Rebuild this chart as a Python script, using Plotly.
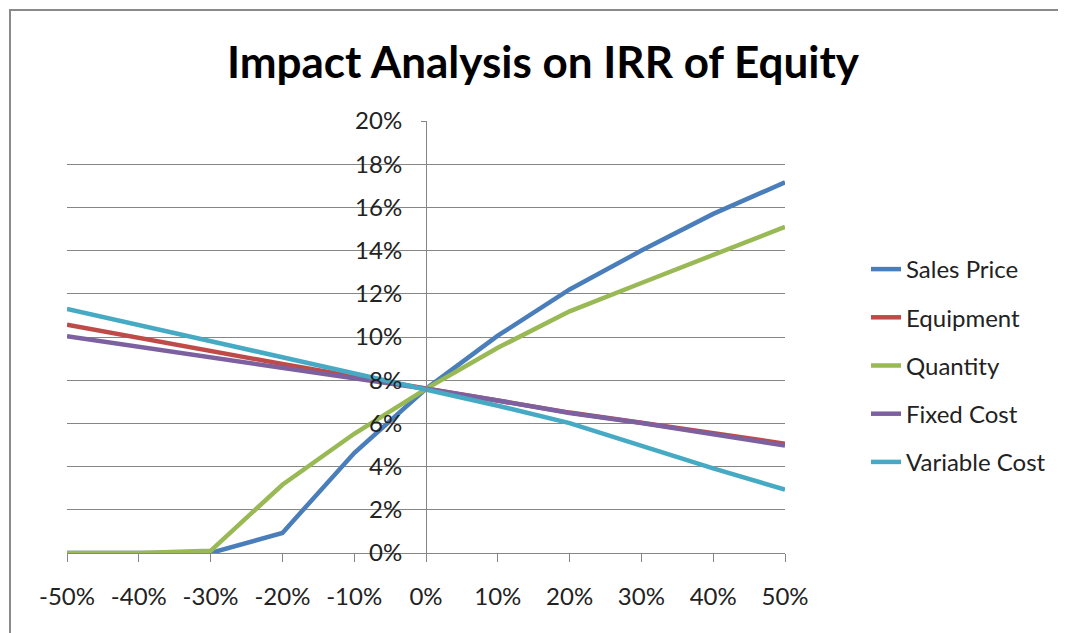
import plotly.graph_objects as go

changes = [-0.5, -0.4, -0.3, -0.2, -0.1, 0.0, 0.1, 0.2, 0.3, 0.4, 0.5]
change_labels = ["-50%", "-40%", "-30%", "-20%", "-10%", "0%", "10%", "20%", "30%", "40%", "50%"]
sales_price = [0.0, 0.0, 0.0, 0.93, 4.63, 7.6, 10.06, 12.2, 14.0, 15.7, 17.16]
equipment = [10.57, 9.95, 9.35, 8.75, 8.17, 7.6, 7.07, 6.5, 6.03, 5.55, 5.06]
quantity = [0.0, 0.0, 0.1, 3.16, 5.52, 7.6, 9.5, 11.19, 12.5, 13.8, 15.1]
fixed_cost = [10.03, 9.55, 9.07, 8.58, 8.1, 7.6, 7.06, 6.48, 6.02, 5.52, 4.97]
variable_cost = [11.3, 10.56, 9.82, 9.08, 8.34, 7.6, 6.82, 6.01, 4.94, 3.92, 2.93]
irr_ticks = [0, 0.02, 0.04, 0.06, 0.08, 0.10, 0.12, 0.14, 0.16, 0.18, 0.20]
irr_labels = ["0%", "2%", "4%", "6%", "8%", "10%", "12%", "14%", "16%", "18%", "20%"]

series = [
    ("Sales Price", sales_price, "#4A7EBB"),
    ("Equipment", equipment, "#BE4B48"),
    ("Quantity", quantity, "#98B954"),
    ("Fixed Cost", fixed_cost, "#7D60A0"),
    ("Variable Cost", variable_cost, "#46AAC5"),
]

FONT = "Lato"
W, H = 1058, 625
L, T = 59, 113
PW, PH = 718, 432

fig = go.Figure()
for name, vals, col in series:
    fig.add_trace(go.Scatter(
        x=changes, y=[v / 100 for v in vals], mode="lines", name=name,
        legendgroup=name,
        line=dict(color=col, width=4.5),
    ))

fig.update_layout(
    width=W, height=H,
    margin=dict(l=L, r=W - L - PW, t=T, b=H - T - PH),
    paper_bgcolor="white", plot_bgcolor="white",
    title=dict(text="<b>Impact Analysis on IRR of Equity</b>", x=(535 - 0) / W, xanchor="center",
               y=1 - 55 / H, yanchor="middle",
               font=dict(family=FONT, size=44, color="black")),
    font=dict(family=FONT, color="#222"),
    showlegend=True,
    legend=dict(x=(858 - L) / PW, xanchor="left", y=1 - (239 - T) / PH, yanchor="top",
                font=dict(family=FONT, size=24, color="#222"),
                traceorder="grouped", tracegroupgap=14,
                bgcolor="rgba(0,0,0,0)"),
    xaxis=dict(range=[-0.5, 0.5], tickvals=changes, ticktext=change_labels,
               showgrid=False, zeroline=False, showline=True, linecolor="#868686",
               linewidth=1, ticks="outside", ticklen=8, tickcolor="#868686",
               tickfont=dict(family=FONT, size=24, color="#222"),
               ticklabelstandoff=14),
    yaxis=dict(range=[0, 0.2], tickvals=irr_ticks, ticktext=irr_labels,
               anchor="free", position=0.5,
               showgrid=True, gridcolor="#868686", gridwidth=1,
               zeroline=False, showline=True, linecolor="#868686", linewidth=1,
               ticks="outside", ticklen=5, tickcolor="#868686",
               tickfont=dict(family=FONT, size=24, color="#222"),
               ticklabelstandoff=14),
)

# outer chart frame (extends past the right/bottom of the view)
fig.add_shape(type="rect", xref="paper", yref="paper",
              x0=(2 - L) / PW, x1=(W + 20 - L) / PW,
              y0=(T + PH - (H + 20)) / PH, y1=(T + PH - 2) / PH,
              line=dict(color="#8A8A8A", width=2), layer="below")

fig.write_html("out.html")
